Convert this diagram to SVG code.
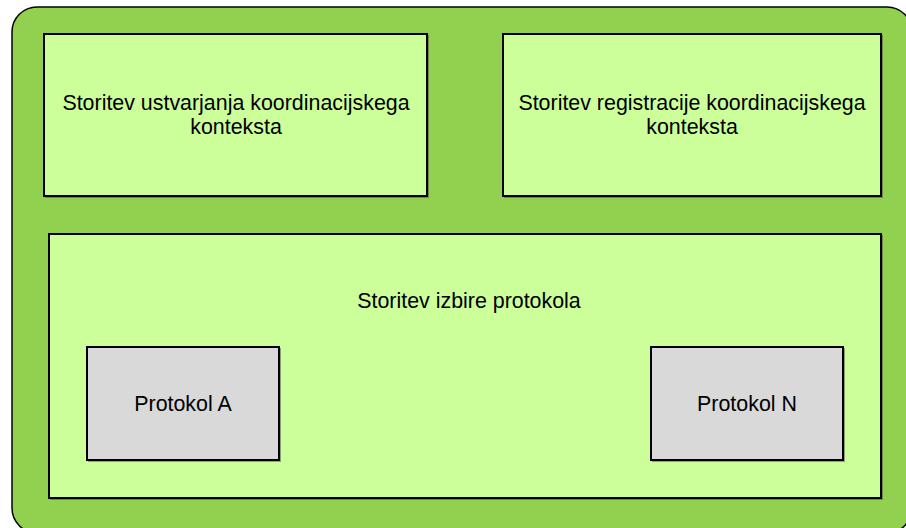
<svg xmlns="http://www.w3.org/2000/svg" width="906" height="528" viewBox="0 0 906 528">
  <style>
    .frame { fill: #92D050; stroke: #000; stroke-width: 1.5; }
    .svc { fill: #CCFF99; stroke: #000; stroke-width: 2; }
    .proto { fill: #D9D9D9; stroke: #000; stroke-width: 2; }
    .shadow { fill: none; stroke: #444; stroke-width: 1; opacity: 0.5; }
    text { font-family: "Liberation Sans", Arial, sans-serif; font-size: 21.4px; fill: #000; text-anchor: middle; }
  </style>

  <!-- outer container -->
  <g id="container">
    <rect class="frame" x="12" y="7" width="900" height="526" rx="25" ry="25"/>
  </g>

  <g id="svc-create">
    <rect class="shadow" x="45.5" y="35.5" width="383" height="162"/>
    <rect class="svc" x="44" y="34" width="383" height="162"/>
    <text x="236" y="110">Storitev ustvarjanja koordinacijskega</text>
    <text x="236" y="134">konteksta</text>
  </g>

  <g id="svc-register">
    <rect class="shadow" x="504.5" y="35.5" width="378" height="162"/>
    <rect class="svc" x="503" y="34" width="378" height="162"/>
    <text x="692" y="110">Storitev registracije koordinacijskega</text>
    <text x="692" y="134">konteksta</text>
  </g>

  <g id="svc-select">
    <rect class="shadow" x="50.5" y="235.5" width="832" height="264"/>
    <rect class="svc" x="49" y="234" width="832" height="264"/>
    <text x="469" y="308">Storitev izbire protokola</text>
  </g>

  <g id="proto-a">
    <rect class="shadow" x="88.5" y="348.5" width="192" height="113"/>
    <rect class="proto" x="87" y="347" width="192" height="113"/>
    <text x="183" y="411">Protokol A</text>
  </g>

  <g id="proto-n">
    <rect class="shadow" x="652.5" y="348.5" width="192" height="113"/>
    <rect class="proto" x="651" y="347" width="192" height="113"/>
    <text x="747" y="411">Protokol N</text>
  </g>

  <g id="connectors"/>
</svg>
